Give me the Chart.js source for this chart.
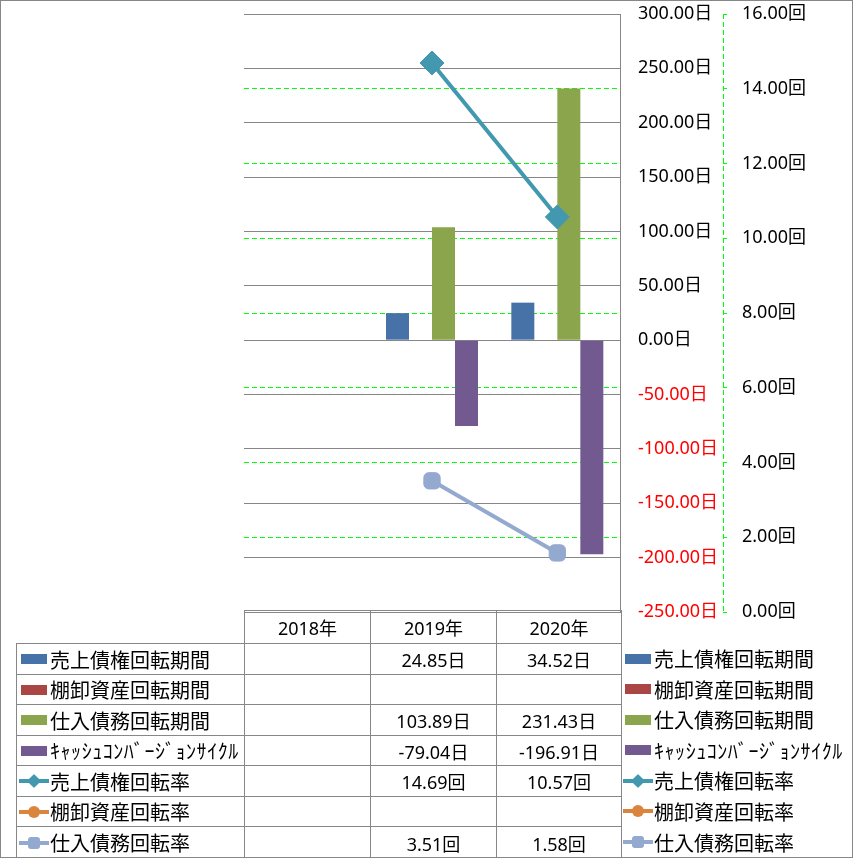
<!DOCTYPE html>
<html lang="ja">
<head>
  <meta charset="UTF-8" />
  <title>回転期間・回転率</title>
  <script src="https://cdn.jsdelivr.net/npm/chart.js"></script>
  <style>
    body {
      margin: 0;
      background: #fff;
      font-family: 'Noto Sans', 'Noto Sans CJK JP', sans-serif;
      color: #000;
    }
    #wrap { position: relative; width: 853px; height: 858px; overflow: hidden; }
    #chart { position: absolute; left: 0; top: 0; }
    #frame {
      position: absolute; left: 0; top: 0; width: 853px; height: 858px;
      box-sizing: border-box; border: 1px solid #878787; pointer-events: none;
    }
    .cell {
      position: absolute; box-sizing: border-box; border: 1px solid #878787;
      display: flex; align-items: center; justify-content: center;
      font-size: 18px; white-space: nowrap;
    }
    .cell.name { justify-content: flex-start; padding-left: 2px; font-size: 20px; }
    .cell.blank { border: none; }
    .legend-item {
      position: absolute; display: flex; align-items: center;
      font-size: 20px; white-space: nowrap;
    }
    .key { position: relative; display: inline-block; flex: none; }
    .key.bar { width: 26px; height: 10px; margin: 0 3px 0 2px; }
    .key.line { width: 30px; height: 16px; margin-right: 1px; }
    .key.line .stroke { position: absolute; left: 0; right: 0; top: 6px; height: 4px; }
    .key.line .mark { position: absolute; }
    .wide { display: inline-block; letter-spacing: 0.55px; }
  </style>
</head>
<body>
  <div id="wrap">
    <canvas id="chart" width="853" height="858"></canvas>
    <div id="table"></div>
    <div id="legend"></div>
    <div id="frame"></div>
  </div>

  <script>
    const categories = ['2018年', '2019年', '2020年'];
    const seriesNames = ['売上債権回転期間', '棚卸資産回転期間', '仕入債務回転期間', 'ｷｬｯｼｭｺﾝﾊﾞｰｼﾞｮﾝｻｲｸﾙ',
                         '売上債権回転率', '棚卸資産回転率', '仕入債務回転率'];
    const receivableDays = [null, 24.85, 34.52];
    const inventoryDays = [null, null, null];
    const payableDays = [null, 103.89, 231.43];
    const cashCycleDays = [null, -79.04, -196.91];
    const receivableTurnover = [null, 14.69, 10.57];
    const inventoryTurnover = [null, null, null];
    const payableTurnover = [null, 3.51, 1.58];
    const dayAxis = [-250, 300, 50];   // min, max, step
    const rateAxis = [0, 16, 2];

    const units = ['日', '日', '日', '日', '回', '回', '回'];
    const colors = ['#4672A8', '#AA4643', '#8BA54D', '#725A91', '#4198AF', '#DB843D', '#93A9CF'];
    const markers = [null, null, null, null, 'rectRot', 'circle', 'rectRounded'];
    const allSeries = [receivableDays, inventoryDays, payableDays, cashCycleDays,
                       receivableTurnover, inventoryTurnover, payableTurnover];

    const tickFont = { family: "'Noto Sans', 'Noto Sans CJK JP'", size: 18 };

    const datasets = allSeries.map((data, i) => {
      if (i < 4) {
        return {
          type: 'bar', label: seriesNames[i], data: data,
          backgroundColor: colors[i], yAxisID: 'y', order: 2,
          categoryPercentage: 0.734, barPercentage: 1
        };
      }
      return {
        type: 'line', label: seriesNames[i], data: data,
        borderColor: colors[i], backgroundColor: colors[i], borderWidth: 4,
        pointStyle: markers[i], pointRadius: i === 4 ? 12 : 9.5, pointBorderWidth: 1,
        yAxisID: 'y1', order: 1, tension: 0
      };
    });

    // dashed secondary axis line
    const dashedAxis = {
      id: 'dashedAxis',
      afterDraw(chart) {
        const s = chart.scales.y1;
        const c = chart.ctx;
        c.save();
        c.strokeStyle = '#00ff00';
        c.lineWidth = 1;
        c.setLineDash([5, 3]);
        c.beginPath();
        c.moveTo(s.left + 0.5, s.top);
        c.lineTo(s.left + 0.5, s.bottom);
        c.stroke();
        c.restore();
      }
    };

    // fixed axis widths, no extra label padding
    function fixAxis(width) {
      return s => {
        s.width = width;
        s.paddingTop = 0;
        s.paddingBottom = 0;
      };
    }

    new Chart(document.getElementById('chart').getContext('2d'), {
      type: 'bar',
      data: { labels: categories, datasets: datasets },
      plugins: [dashedAxis],
      options: {
        responsive: false,
        animation: false,
        layout: { padding: { left: 244, top: 14, bottom: 246, right: 40 } },
        plugins: { legend: { display: false }, tooltip: { enabled: false } },
        scales: {
          x: { display: false, offset: true },
          y: {
            position: 'right',
            min: dayAxis[0], max: dayAxis[1],
            ticks: {
              stepSize: dayAxis[2], padding: 18, font: tickFont,
              color: ctx => ctx.tick.value < 0 ? '#ff0000' : '#000000',
              callback: v => v.toFixed(2) + '日'
            },
            grid: { color: '#878787', lineWidth: 1, drawTicks: false },
            border: { display: true, color: '#878787' },
            afterFit: fixAxis(103)
          },
          y1: {
            position: 'right', weight: 1,
            min: rateAxis[0], max: rateAxis[1],
            ticks: {
              stepSize: rateAxis[2], padding: 15, font: tickFont, color: '#000000',
              callback: v => v.toFixed(2) + '回'
            },
            grid: {
              color: ctx => (ctx.tick && (ctx.tick.value === rateAxis[0] || ctx.tick.value === rateAxis[1]))
                ? 'rgba(0,0,0,0)' : '#00ff00',
              tickColor: '#00ff00', tickLength: 4, lineWidth: 1
            },
            border: { display: false, dash: [5, 3] },
            afterFit: fixAxis(90)
          }
        }
      }
    });

    // data table + legend
    const colX = [16, 244, 370, 496, 621];
    const rowY = [610, 643, 674, 704, 735, 765, 796, 826, 858];

    function keyHtml(i) {
      if (!markers[i]) {
        return '<span class="key bar" style="background:' + colors[i] + '"></span>';
      }
      let mark = '';
      if (markers[i] === 'rectRot') {
        mark = '<span class="mark" style="left:10px;top:3px;width:10px;height:10px;border-radius:1px;transform:rotate(45deg);background:' + colors[i] + '"></span>';
      } else if (markers[i] === 'circle') {
        mark = '<span class="mark" style="left:9px;top:2px;width:12px;height:12px;border-radius:50%;background:' + colors[i] + '"></span>';
      } else {
        mark = '<span class="mark" style="left:9px;top:2px;width:12px;height:12px;border-radius:3px;background:' + colors[i] + '"></span>';
      }
      return '<span class="key line"><span class="stroke" style="background:' + colors[i] + '"></span>' + mark + '</span>';
    }

    function nameHtml(i) {
      return '<span' + (i === 3 ? ' class="wide"' : '') + '>' + seriesNames[i] + '</span>';
    }

    function addCell(parent, c, r, html, cls) {
      const d = document.createElement('div');
      d.className = 'cell' + (cls ? ' ' + cls : '');
      d.style.left = colX[c] + 'px';
      d.style.top = rowY[r] + 'px';
      d.style.width = (colX[c + 1] - colX[c] + 1) + 'px';
      d.style.height = (rowY[r + 1] - rowY[r] + 1) + 'px';
      d.innerHTML = html;
      parent.appendChild(d);
    }

    const table = document.getElementById('table');
    addCell(table, 0, 0, '', 'blank');
    categories.forEach((cat, c) => addCell(table, c + 1, 0, cat));
    allSeries.forEach((data, i) => {
      addCell(table, 0, i + 1, keyHtml(i) + nameHtml(i), 'name');
      data.forEach((v, c) => addCell(table, c + 1, i + 1, v === null ? '' : v.toFixed(2) + units[i]));
    });

    const legend = document.getElementById('legend');
    seriesNames.forEach((name, i) => {
      const d = document.createElement('div');
      d.className = 'legend-item';
      d.style.left = '623px';
      d.style.top = rowY[i + 1] + 'px';
      d.style.height = (rowY[i + 2] - rowY[i + 1]) + 'px';
      d.innerHTML = keyHtml(i) + nameHtml(i);
      legend.appendChild(d);
    });
  </script>
</body>
</html>
